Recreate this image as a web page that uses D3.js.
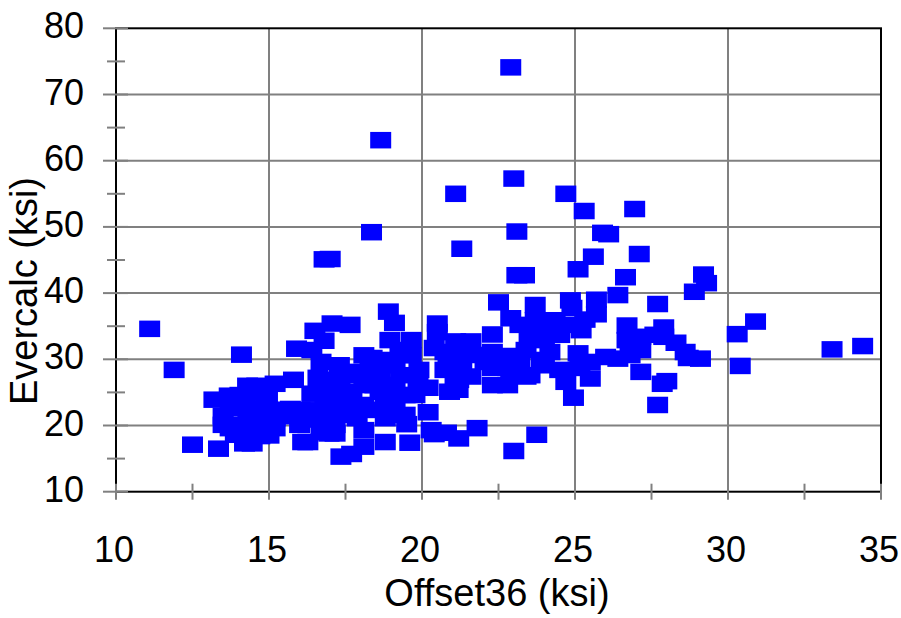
<!DOCTYPE html>
<html><head><meta charset="utf-8">
<script src="https://cdn.jsdelivr.net/npm/d3@7"></script>
<style>html,body{margin:0;padding:0;background:#fff;} svg{display:block;}</style>
</head><body>
<svg id="chart" width="901" height="618"></svg>
<script>
// ---- data ----
const xTicks = [10, 15, 20, 25, 30, 35];
const yTicks = [10, 20, 30, 40, 50, 60, 70, 80];
const xMinorTicks = [12.5, 17.5, 22.5, 27.5, 32.5];
const yMinorTicks = [15, 25, 35, 45, 55, 65, 75];
const xLabel = "Offset36 (ksi)";
const yLabel = "Evercalc (ksi)";

const offset36 = [
  11.1, 11.9, 12.5, 14.1, 16.8, 17.0, 18.35, 18.65, 21.1, 21.3, 22.9, 23.0, 23.1, 23.1, 23.35, 24.7, 25.3, 25.1, 25.6, 25.9, 26.1, 26.95, 27.1, 26.65, 28.9, 29.2, 29.3, 27.7, 30.3, 30.9, 30.4, 33.4, 34.4, 27.7, 27.85, 28.0, 23.0, 23.75, 21.8, 21.2, 20.8, 24.95,
  13.2, 13.7, 14.3, 14.6, 15.2, 15.8, 13.5, 13.5, 13.35, 14.2, 14.45, 15.0, 15.55, 16.1, 16.27, 13.9, 14.38, 14.9, 14.05, 14.64, 15.2, 13.9, 14.7, 14.05, 14.8, 14.95, 15.7, 16.4,
  15.9, 16.5, 17.06, 17.65, 16.8, 16.4, 16.7, 16.6, 17.0, 16.5, 16.0, 16.7, 16.96, 17.16, 17.32, 17.5, 17.5, 17.3, 18.1, 18.3, 18.1, 18.1, 18.8, 18.95, 19.1, 18.9, 19.65, 19.65, 18.8, 19.3, 19.9, 19.45, 19.45, 20.2, 20.2, 20.3, 20.4, 18.8, 18.1, 18.1, 18.8, 19.6, 17.35, 17.7, 19.5,
  20.5, 20.5, 21.1, 21.6, 22.3, 22.9, 22.5, 23.7, 23.2, 23.7, 23.4, 22.3, 22.3, 22.3, 22.9, 22.8, 23.4, 23.9, 24.0, 24.0, 24.35, 24.85, 24.9, 25.7, 26.4, 25.7, 24.85, 25.2, 24.5, 25.1, 24.7, 25.5, 24.5, 25.5, 26.0, 26.4, 26.7, 26.7, 27.15, 27.15, 27.15, 27.9, 27.9, 28.3, 28.6, 29.1, 28.7, 20.85, 21.3, 21.6, 20.9, 21.2, 21.7, 22.9, 23.5, 20.4,
  13.73, 14.22, 14.64, 15.1, 14.31, 14.77, 13.73, 14.31, 14.77, 15.2, 15.52, 16.01, 16.67, 16.83, 17.16, 17.65, 17.71, 17.0, 17.81, 18.46, 18.63, 19.12, 19.12, 19.28, 18.37, 19.12, 19.77, 19.87, 20.75, 21.08, 22.06, 22.71, 23.2, 23.53, 21.24, 24.02, 25.33, 24.18, 25.16, 26.8, 27.61,
  17.32, 17.88, 18.46, 18.63, 20.75, 21.18, 23.86
];
const evercalc = [
  34.6, 28.4, 17.1, 30.7, 45.1, 45.15, 49.2, 63.1, 55.0, 46.7, 74.1, 57.3, 49.3, 42.7, 42.7, 55.0, 52.4, 43.6, 45.5, 49.1, 48.9, 52.7, 45.9, 42.4, 40.2, 42.8, 41.5, 38.35, 33.8, 35.7, 29.0, 31.5, 32.0, 23.1, 26.3, 26.7, 16.15, 18.6, 19.6, 18.05, 18.9, 24.2,
  23.9, 24.5, 26.0, 26.0, 26.3, 26.9, 21.4, 20.1, 16.5, 17.3, 17.3, 18.5, 21.4, 17.5, 17.5, 22.6, 22.6, 23.6, 20.1, 20.1, 21.1, 18.6, 18.4, 24.6, 25.1, 24.2, 22.5, 24.8,
  31.6, 34.3, 35.4, 35.2, 32.8, 31.4, 29.6, 27.2, 24.6, 22.3, 20.1, 19.0, 18.8, 18.8, 21.6, 23.9, 27.6, 29.1, 30.6, 28.4, 26.1, 23.1, 23.85, 32.9, 35.5, 37.2, 32.9, 30.6, 29.9, 27.6, 28.4, 24.6, 21.6, 25.7, 22.0, 19.3, 18.7, 21.1, 19.3, 16.8, 17.5, 17.4, 15.3, 15.7, 20.2,
  35.4, 34.1, 32.7, 32.7, 33.75, 36.2, 38.6, 38.2, 35.2, 35.9, 31.4, 31.1, 28.7, 26.1, 27.6, 26.1, 27.4, 29.9, 29.1, 32.9, 35.9, 38.9, 37.75, 39.0, 39.7, 36.8, 35.2, 34.4, 33.7, 30.9, 26.6, 27.1, 28.4, 29.6, 30.35, 30.1, 35.1, 32.9, 33.4, 31.4, 28.1, 34.8, 33.4, 32.5, 31.1, 30.1, 30.2, 29.9, 29.1, 27.4, 25.1, 26.9, 30.65, 30.5, 33.0, 31.7,
  23.1, 23.85, 22.35, 22.35, 21.1, 21.1, 19.6, 19.0, 19.6, 19.6, 22.35, 22.35, 20.9, 23.1, 20.1, 22.35, 25.1, 26.9, 28.1, 26.1, 27.6, 26.1, 29.1, 31.4, 30.2, 23.1, 24.6, 26.9, 28.4, 26.1, 29.6, 29.1, 29.6, 27.6, 31.1, 35.2, 36.0, 31.1, 28.7, 30.65, 33.7,
  25.7, 21.1, 22.35, 25.1, 31.1, 25.4, 34.7
];

// ---- chart ----
const svg = d3.select("#chart");
const x = d3.scaleLinear().domain([10, 35]).range([116, 881]);
const y = d3.scaleLinear().domain([10, 80]).range([491.7, 28.3]);
const font = "'Liberation Sans', Arial, sans-serif";
const grey = "#808080";

// gridlines
svg.append("g").selectAll("line").data(xTicks.slice(1, -1)).join("line")
  .attr("x1", d => x(d)).attr("x2", d => x(d))
  .attr("y1", y(80)).attr("y2", y(10))
  .attr("stroke", grey).attr("stroke-width", 2);
svg.append("g").selectAll("line").data(yTicks.slice(1, -1)).join("line")
  .attr("y1", d => y(d)).attr("y2", d => y(d))
  .attr("x1", x(10)).attr("x2", x(35))
  .attr("stroke", grey).attr("stroke-width", 2);

// frame
svg.append("rect")
  .attr("x", x(10)).attr("y", y(80))
  .attr("width", x(35) - x(10)).attr("height", y(10) - y(80))
  .attr("fill", "none").attr("stroke", "#000").attr("stroke-width", 2);

// ticks (crossing axis)
const tg = svg.append("g").attr("stroke", grey).attr("stroke-width", 2);
tg.selectAll(".ym").data(yTicks).join("line")
  .attr("x1", x(10) - 13).attr("x2", x(10) + 12)
  .attr("y1", d => y(d)).attr("y2", d => y(d));
tg.selectAll(".yn").data(yMinorTicks).join("line")
  .attr("x1", x(10) - 9).attr("x2", x(10) + 9)
  .attr("y1", d => y(d)).attr("y2", d => y(d));
tg.selectAll(".xm").data(xTicks.concat(xMinorTicks)).join("line")
  .attr("x1", d => x(d)).attr("x2", d => x(d))
  .attr("y1", y(10) - 8).attr("y2", y(10) + 8);

// points
svg.append("g").selectAll("rect").data(d3.range(offset36.length)).join("rect")
  .attr("x", i => x(offset36[i]) - 10.5)
  .attr("y", i => y(evercalc[i]) - 8.25)
  .attr("width", 21).attr("height", 16.5)
  .attr("fill", "#0000ff");

// tick labels
svg.append("g").selectAll("text").data(yTicks).join("text")
  .attr("x", 84).attr("y", d => y(d) + 10)
  .attr("text-anchor", "end")
  .style("font-family", font).style("font-size", "36px").attr("fill", "#000")
  .text(d => d);
svg.append("g").selectAll("text").data(xTicks).join("text")
  .attr("x", d => x(d) - 2).attr("y", 562)
  .attr("text-anchor", "middle")
  .style("font-family", font).style("font-size", "36px").attr("fill", "#000")
  .text(d => d);

// axis titles
svg.append("text")
  .attr("x", 497).attr("y", 606)
  .attr("text-anchor", "middle")
  .style("font-family", font).style("font-size", "38px").attr("fill", "#000")
  .text(xLabel);
svg.append("text")
  .attr("transform", "translate(37," + 291 + ") rotate(-90)")
  .attr("text-anchor", "middle")
  .style("font-family", font).style("font-size", "38px").attr("fill", "#000")
  .text(yLabel);
</script>
</body></html>
